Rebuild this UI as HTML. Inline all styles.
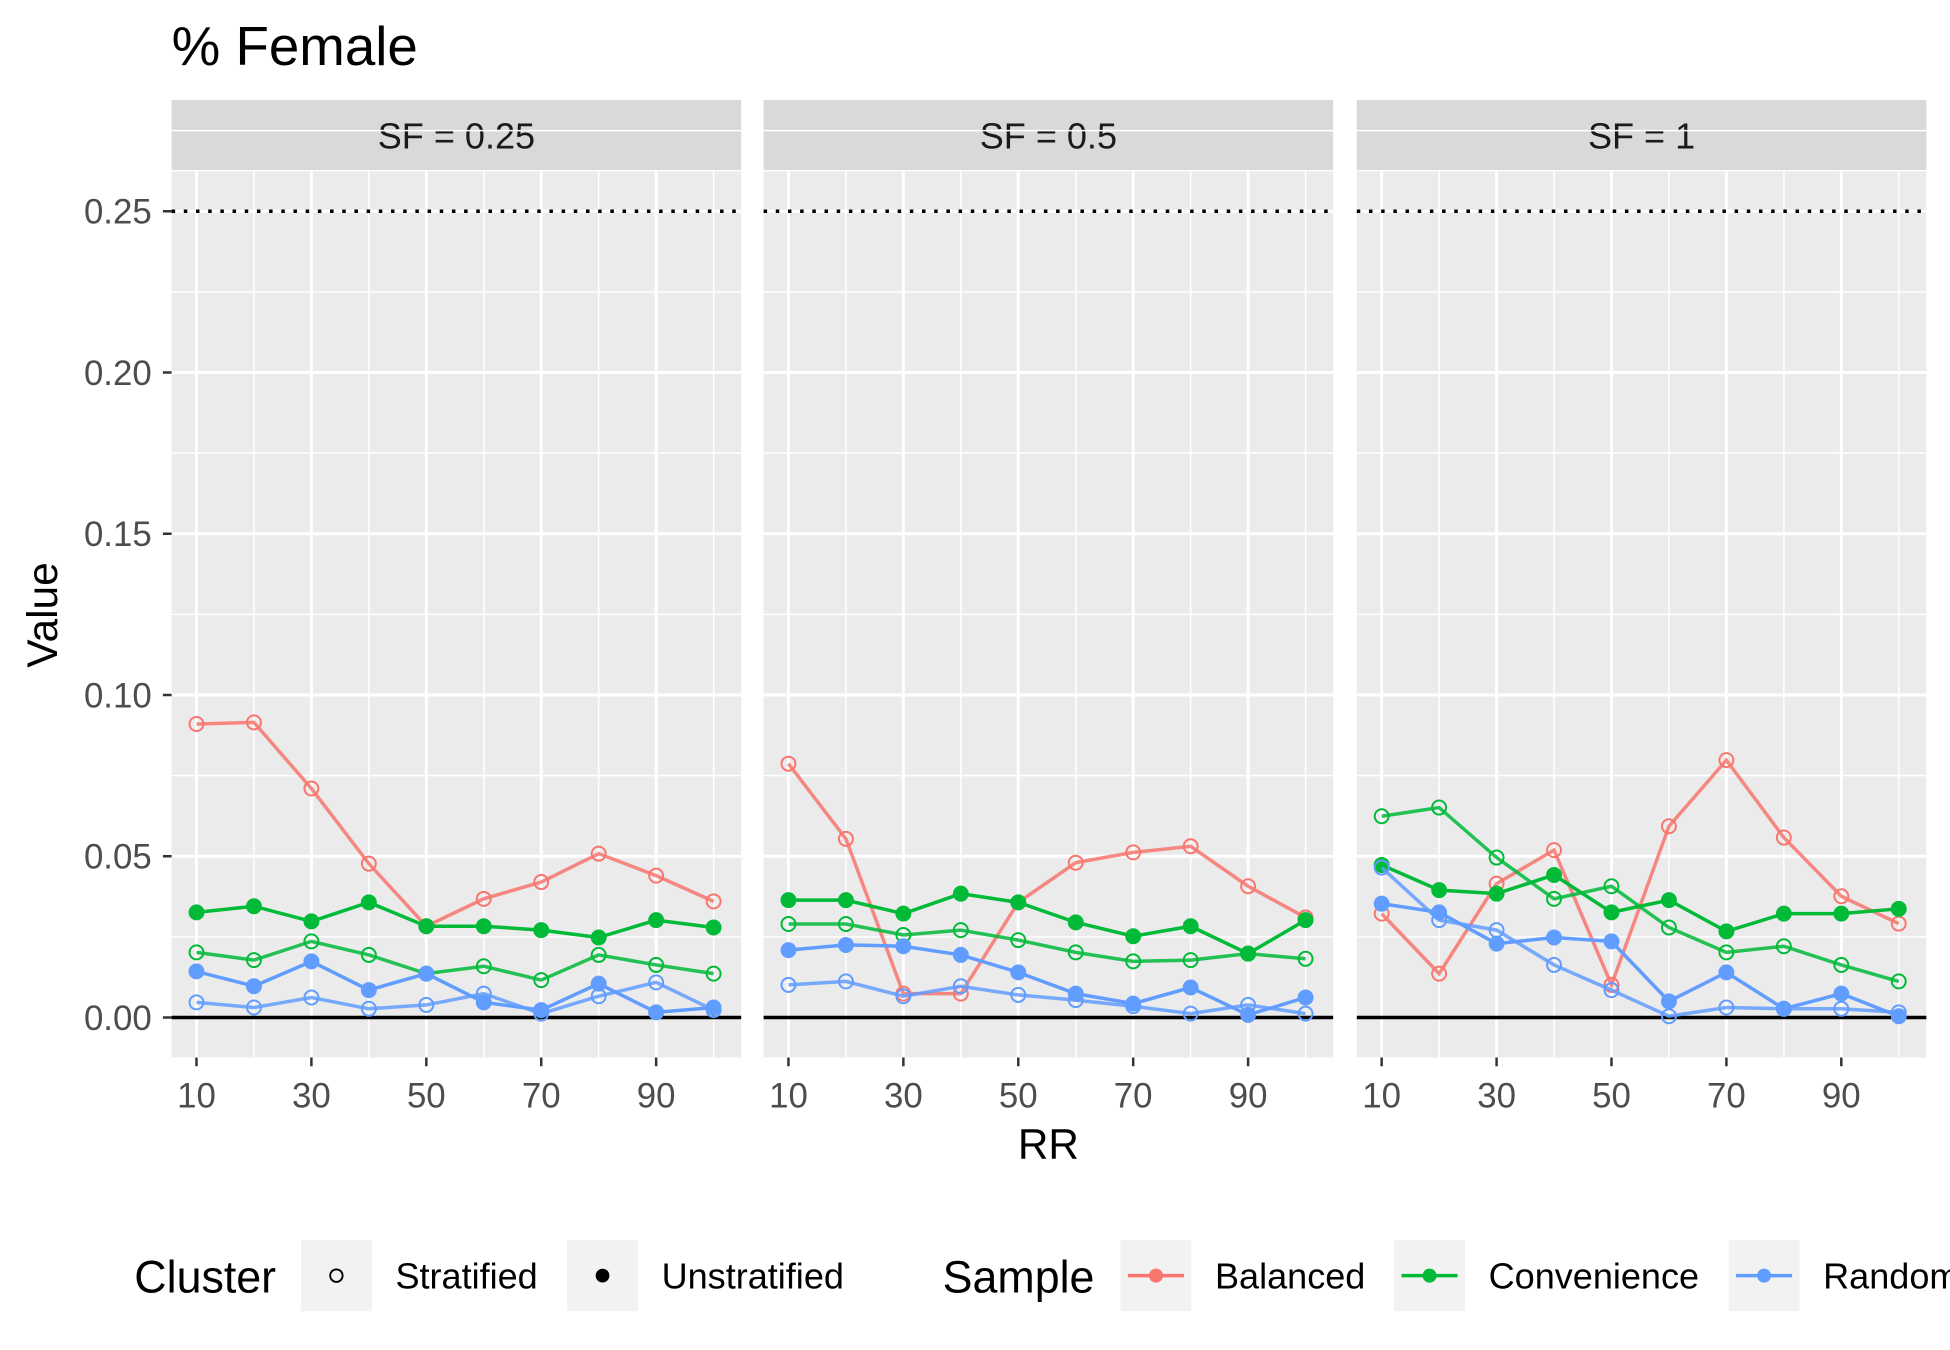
<!DOCTYPE html>
<html><head><meta charset="utf-8"><style>html,body{margin:0;padding:0;background:#fff}svg{display:block}</style></head>
<body>
<svg id="chart" width="1950" height="1350" viewBox="0 0 1568 1080" preserveAspectRatio="none" xmlns="http://www.w3.org/2000/svg" font-family="Liberation Sans, Arial, sans-serif"></svg>
<script>
const panels = ["SF = 0.25","SF = 0.5","SF = 1"];
const rr = [10,20,30,40,50,60,70,80,90,100];
const xTicks = [10,30,50,70,90];
const yTicks = [0,0.05,0.10,0.15,0.20,0.25];
const yTickLabels = ["0.00","0.05","0.10","0.15","0.20","0.25"];
const refLine = 0.25;
const balancedStrat = [
 [0.091,0.0915,0.071,0.0477,0.0283,0.0368,0.042,0.0508,0.044,0.036],
 [0.0787,0.0554,0.0074,0.0074,0.0357,0.048,0.0512,0.0531,0.0407,0.031],
 [0.0322,0.0136,0.0415,0.0519,0.0101,0.0593,0.0798,0.0558,0.0376,0.0291]];
const convUnstrat = [
 [0.0326,0.0345,0.0298,0.0357,0.0283,0.0283,0.0271,0.0248,0.0302,0.0279],
 [0.0364,0.0364,0.0322,0.0384,0.0357,0.0295,0.0252,0.0283,0.0198,0.0302],
 [0.0473,0.0395,0.0384,0.0442,0.0326,0.0364,0.0267,0.0322,0.0322,0.0337]];
const convStrat = [
 [0.0202,0.0178,0.0236,0.0194,0.0136,0.0159,0.0116,0.0194,0.0163,0.0136],
 [0.029,0.029,0.0256,0.0271,0.024,0.0202,0.0174,0.0178,0.0198,0.0182],
 [0.0624,0.0651,0.0496,0.0368,0.0407,0.0279,0.0202,0.0221,0.0163,0.0112]];
const randUnstrat = [
 [0.0143,0.0097,0.0174,0.0085,0.0136,0.0047,0.0023,0.0105,0.0016,0.0031],
 [0.0209,0.0225,0.0221,0.0194,0.014,0.0074,0.0043,0.0093,0.0008,0.0062],
 [0.0353,0.0326,0.0229,0.0248,0.0236,0.005,0.014,0.0027,0.0074,0.0004]];
const randStrat = [
 [0.0047,0.0031,0.0062,0.0027,0.0039,0.0074,0.0012,0.0066,0.0109,0.0023],
 [0.0101,0.0112,0.0066,0.0097,0.007,0.0054,0.0035,0.0012,0.0039,0.0012],
 [0.0465,0.0302,0.0271,0.0163,0.0085,0.0004,0.0031,0.0027,0.0027,0.0016]];

const NS="http://www.w3.org/2000/svg";
const svg=document.getElementById('chart');
function mk(tag,attrs,parent,text){const e=document.createElementNS(NS,tag);for(const k in attrs)e.setAttribute(k,attrs[k]);if(text!==undefined)e.textContent=text;(parent||svg).appendChild(e);return e;}
const panelX0=[138,614,1091], PW=458, PT=137, PB=846;
function yS(v){return 814-v*2580;}
function xS(p,r){return panelX0[p]+20+(r-10)*4.62;}

let t=mk('text',{x:138,y:52,'font-size':44,fill:'#000'},svg,'% Female');


const series=[
 {d:balancedStrat,c:'#F8766D',filled:false,n:'balanced-stratified'},
 {d:convUnstrat,c:'#00BA38',filled:true,n:'convenience-unstratified'},
 {d:convStrat,c:'#00BA38',filled:false,n:'convenience-stratified'},
 {d:randUnstrat,c:'#619CFF',filled:true,n:'random-unstratified'},
 {d:randStrat,c:'#619CFF',filled:false,n:'random-stratified'}];

for(let p=0;p<3;p++){
 const x0=panelX0[p];
 const g=mk('g',{});
 
 
 mk('rect',{x:x0,y:80,width:PW,height:56,fill:'#D9D9D9'},g);
 const st=mk('text',{x:x0+PW/2,y:119,'font-size':29,'text-anchor':'middle',fill:'#1a1a1a'},g,panels[p]);
 
 mk('rect',{x:x0,y:PT,width:PW,height:PB-PT,fill:'#EBEBEB'},g);
 for(let i=0;i<yTicks.length;i++){
  mk('line',{x1:x0,x2:x0+PW,y1:yS(yTicks[i]),y2:yS(yTicks[i]),stroke:'#fff','stroke-width':2.4},g);
  mk('line',{x1:x0,x2:x0+PW,y1:yS(yTicks[i]+0.025),y2:yS(yTicks[i]+0.025),stroke:'#fff','stroke-width':1.2},g);
 }
 for(const r of rr){
  const major=xTicks.includes(r);
  mk('line',{x1:xS(p,r),x2:xS(p,r),y1:PT,y2:PB,stroke:'#fff','stroke-width':major?2.4:1.2},g);
 }
 mk('line',{x1:x0,x2:x0+PW,y1:yS(refLine),y2:yS(refLine),stroke:'#000','stroke-width':2.8,'stroke-dasharray':'2.8 7'},g);
 mk('line',{x1:x0,x2:x0+PW,y1:yS(0),y2:yS(0),stroke:'#000','stroke-width':2.8},g);
 for(const s of series){
  const pts=s.d[p].map((v,i)=>xS(p,rr[i])+','+yS(v)).join(' ');
  const l=mk('polyline',{points:pts,fill:'none',stroke:s.c,'stroke-width':2.8,'stroke-opacity':s.filled?1:0.85},g);
  
  s.d[p].forEach((v,i)=>{
   const c=mk('circle',{cx:xS(p,rr[i]),cy:yS(v),r:5.6,fill:s.filled?s.c:'none',stroke:s.c,'stroke-width':1.6},g);
   
  });
 }
 for(const r of xTicks){
  mk('line',{x1:xS(p,r),x2:xS(p,r),y1:PB,y2:PB+7,stroke:'#333','stroke-width':2},g);
  const tl=mk('text',{x:xS(p,r),y:886,'font-size':28,'text-anchor':'middle',fill:'#4D4D4D'},g,String(r));
  
 }
}
for(let i=0;i<yTicks.length;i++){
 mk('line',{x1:131,x2:138,y1:yS(yTicks[i]),y2:yS(yTicks[i]),stroke:'#333','stroke-width':2});
 const tl=mk('text',{x:122,y:yS(yTicks[i])+10,'font-size':28,'text-anchor':'end',fill:'#4D4D4D'},svg,yTickLabels[i]);
 
}
t=mk('text',{x:843,y:927,'font-size':34,'text-anchor':'middle',fill:'#000'},svg,'RR');

t=mk('text',{x:0,y:0,'font-size':34,'text-anchor':'middle',fill:'#000',transform:'translate(46,492) rotate(-90)'},svg,'Value');


const lg=mk('g',{});

mk('text',{x:108,y:1034,'font-size':36,fill:'#000'},lg,'Cluster');
mk('text',{x:758,y:1034,'font-size':36,fill:'#000'},lg,'Sample');
const keys=[
 {x:242,label:'Stratified',tx:318,draw:(k)=>mk('circle',{cx:k+28.5,cy:1020.5,r:5,fill:'none',stroke:'#000','stroke-width':1.5},lg),n:'legend-stratified'},
 {x:456,label:'Unstratified',tx:532,draw:(k)=>mk('circle',{cx:k+28.5,cy:1020.5,r:5.5,fill:'#000'},lg),n:'legend-unstratified'},
 {x:901,label:'Balanced',tx:977,c:'#F8766D',n:'legend-balanced'},
 {x:1121,label:'Convenience',tx:1197,c:'#00BA38',n:'legend-convenience'},
 {x:1390,label:'Random',tx:1466,c:'#619CFF',n:'legend-random'}];
for(const k of keys){
 const kg=mk('g',{},lg);
 
 mk('rect',{x:k.x,y:992,width:57,height:57,fill:'#F2F2F2'},kg);
 if(k.draw)k.draw(k.x);
 else{mk('line',{x1:k.x+6,x2:k.x+51,y1:1020.5,y2:1020.5,stroke:k.c,'stroke-width':2.8},kg);
      mk('circle',{cx:k.x+28.5,cy:1020.5,r:5.6,fill:k.c},kg);}
 mk('text',{x:k.tx,y:1031,'font-size':29,fill:'#000'},kg,k.label);
}
</script>
</body></html>
